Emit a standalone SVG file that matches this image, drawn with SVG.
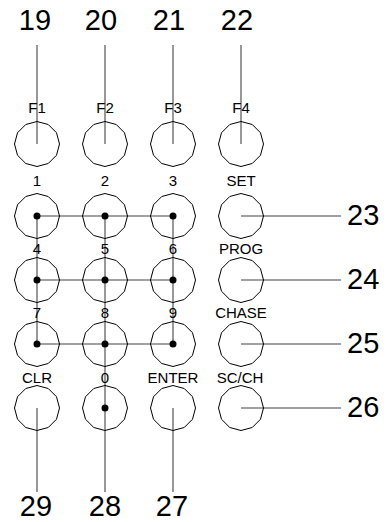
<svg xmlns="http://www.w3.org/2000/svg" xmlns:xlink="http://www.w3.org/1999/xlink" width="391" height="522" viewBox="0 0 391 522">
<style>
.key{fill:none;stroke:#000;stroke-width:1}
.lbl{font-family:"Liberation Sans",Arial,sans-serif;font-size:15px;fill:#000;text-anchor:middle}
.num{font-family:"Liberation Sans",Arial,sans-serif;font-size:29px;fill:#000}
.mid{text-anchor:middle}
.ln{stroke:#444;stroke-width:1.1;fill:none}
.dot{fill:#000}
</style>
<defs>
<path id="k" d="M22.5,0 L19.486,11.25 L11.25,19.486 L0,22.5 L-11.25,19.486 L-19.486,11.25 L-22.5,0 L-19.486,-11.25 L-11.25,-19.486 L0,-22.5 L11.25,-19.486 L19.486,-11.25 Z"/>
</defs>
<rect width="391" height="522" fill="#fff"/>

<g id="connectors">
  <line class="ln" x1="37" y1="45" x2="37" y2="144"/>
  <line class="ln" x1="105" y1="45" x2="105" y2="144"/>
  <line class="ln" x1="173" y1="45" x2="173" y2="144"/>
  <line class="ln" x1="241" y1="45" x2="241" y2="144"/>
  <line class="ln" x1="241" y1="216" x2="341" y2="216"/>
  <line class="ln" x1="241" y1="280" x2="341" y2="280"/>
  <line class="ln" x1="241" y1="344" x2="341" y2="344"/>
  <line class="ln" x1="241" y1="408" x2="341" y2="408"/>
  <line class="ln" x1="37" y1="408" x2="37" y2="492"/>
  <line class="ln" x1="173" y1="408" x2="173" y2="492"/>
  <line class="ln" x1="37" y1="216" x2="173" y2="216"/>
  <line class="ln" x1="37" y1="280" x2="173" y2="280"/>
  <line class="ln" x1="37" y1="344" x2="173" y2="344"/>
  <line class="ln" x1="37" y1="216" x2="37" y2="344"/>
  <line class="ln" x1="105" y1="216" x2="105" y2="492"/>
  <line class="ln" x1="173" y1="216" x2="173" y2="344"/>
  <circle class="dot" cx="37" cy="216" r="3.5"/>
  <circle class="dot" cx="105" cy="216" r="3.5"/>
  <circle class="dot" cx="173" cy="216" r="3.5"/>
  <circle class="dot" cx="37" cy="280" r="3.5"/>
  <circle class="dot" cx="105" cy="280" r="3.5"/>
  <circle class="dot" cx="173" cy="280" r="3.5"/>
  <circle class="dot" cx="37" cy="344" r="3.5"/>
  <circle class="dot" cx="105" cy="344" r="3.5"/>
  <circle class="dot" cx="173" cy="344" r="3.5"/>
  <circle class="dot" cx="105" cy="408" r="3.5"/>
</g>

<g id="key-F1"><use href="#k" class="key" x="37" y="144"/><text class="lbl" x="37" y="113">F1</text></g>
<g id="key-F2"><use href="#k" class="key" x="105" y="144"/><text class="lbl" x="105" y="113">F2</text></g>
<g id="key-F3"><use href="#k" class="key" x="173" y="144"/><text class="lbl" x="173" y="113">F3</text></g>
<g id="key-F4"><use href="#k" class="key" x="241" y="144"/><text class="lbl" x="241" y="113">F4</text></g>

<g id="key-1"><use href="#k" class="key" x="37" y="216"/><text class="lbl" x="37" y="185.5">1</text></g>
<g id="key-2"><use href="#k" class="key" x="105" y="216"/><text class="lbl" x="105" y="185.5">2</text></g>
<g id="key-3"><use href="#k" class="key" x="173" y="216"/><text class="lbl" x="173" y="185.5">3</text></g>
<g id="key-SET"><use href="#k" class="key" x="241" y="216"/><text class="lbl" x="241" y="185.5">SET</text></g>

<g id="key-4"><use href="#k" class="key" x="37" y="280"/><text class="lbl" x="37" y="254">4</text></g>
<g id="key-5"><use href="#k" class="key" x="105" y="280"/><text class="lbl" x="105" y="254">5</text></g>
<g id="key-6"><use href="#k" class="key" x="173" y="280"/><text class="lbl" x="173" y="254">6</text></g>
<g id="key-PROG"><use href="#k" class="key" x="241" y="280"/><text class="lbl" x="241" y="254">PROG</text></g>

<g id="key-7"><use href="#k" class="key" x="37" y="344"/><text class="lbl" x="37" y="317.5">7</text></g>
<g id="key-8"><use href="#k" class="key" x="105" y="344"/><text class="lbl" x="105" y="317.5">8</text></g>
<g id="key-9"><use href="#k" class="key" x="173" y="344"/><text class="lbl" x="173" y="317.5">9</text></g>
<g id="key-CHASE"><use href="#k" class="key" x="241" y="344"/><text class="lbl" x="241" y="317.5">CHASE</text></g>

<g id="key-CLR"><use href="#k" class="key" x="37" y="408"/><text class="lbl" x="37" y="383">CLR</text></g>
<g id="key-0"><use href="#k" class="key" x="105" y="408"/><text class="lbl" x="105" y="383">0</text></g>
<g id="key-ENTER"><use href="#k" class="key" x="173" y="408"/><text class="lbl" x="173" y="383">ENTER</text></g>
<g id="key-SCCH"><use href="#k" class="key" x="241" y="408"/><text class="lbl" x="240" y="383">SC/CH</text></g>

<g id="callouts">
  <text class="num mid" x="35" y="30">19</text>
  <text class="num mid" x="101" y="30">20</text>
  <text class="num mid" x="169" y="30">21</text>
  <text class="num mid" x="237" y="30">22</text>
  <text class="num" x="347" y="224.5">23</text>
  <text class="num" x="347" y="289">24</text>
  <text class="num" x="347" y="353">25</text>
  <text class="num" x="347" y="417">26</text>
  <text class="num mid" x="172" y="516">27</text>
  <text class="num mid" x="105" y="516">28</text>
  <text class="num mid" x="36" y="516">29</text>
</g>
</svg>
